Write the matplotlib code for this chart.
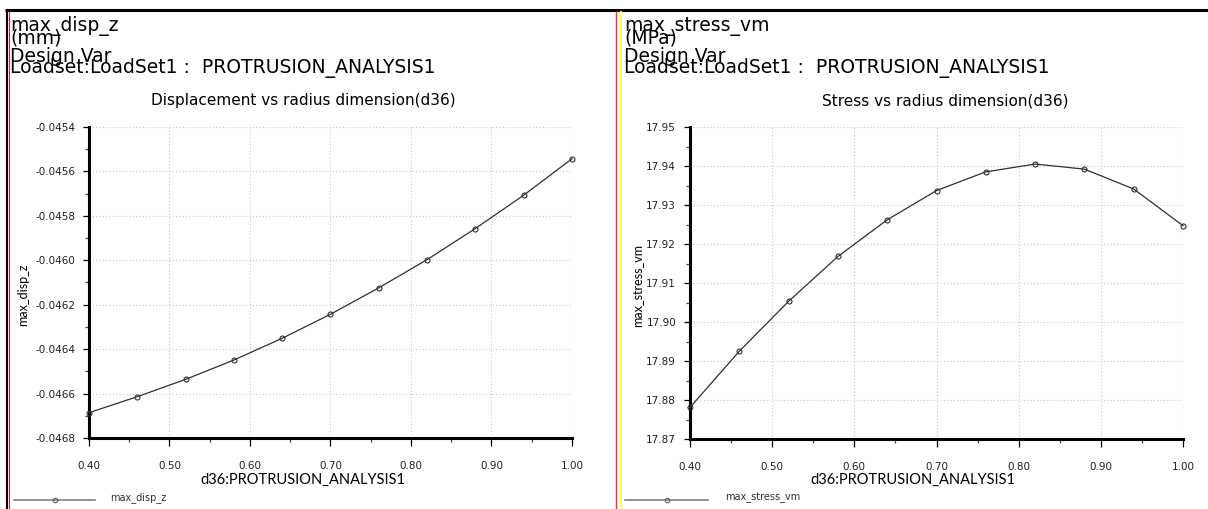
import matplotlib
matplotlib.use("Agg")
import matplotlib.pyplot as plt
from matplotlib.lines import Line2D
from matplotlib.ticker import MultipleLocator, FormatStrFormatter

plt.rcParams['font.family'] = ['DejaVu Sans']

# Design variable sweep (radius dimension d36)
d36 = [0.40, 0.46, 0.52, 0.58, 0.64, 0.70, 0.76, 0.82, 0.88, 0.94, 1.00]

# Measures at each design point
max_disp_z = [-0.046686, -0.046614, -0.046536, -0.046449, -0.046351, -0.046243,
              -0.046124, -0.045997, -0.045857, -0.045707, -0.045543]
max_stress_vm = [17.8781, 17.8925, 17.9053, 17.9168, 17.9262, 17.9337,
                 17.9385, 17.9405, 17.9392, 17.9341, 17.9247]

x_ticks = [0.40, 0.50, 0.60, 0.70, 0.80, 0.90, 1.00]
disp_ylim = (-0.0468, -0.0454)
stress_ylim = (17.87, 17.95)

W, H = 1208, 509
fig = plt.figure(figsize=(W / 100, H / 100), dpi=100)
fig.patch.set_facecolor('white')


def fx(px):
    return px / W


def fy(py):
    return 1 - py / H


def vline(x, y0, y1, color, lw):
    fig.add_artist(Line2D([fx(x), fx(x)], [fy(y0), fy(y1)], color=color, lw=lw,
                          transform=fig.transFigure, solid_capstyle='butt'))


def hline(x0, x1, y, color, lw):
    fig.add_artist(Line2D([fx(x0), fx(x1)], [fy(y), fy(y)], color=color, lw=lw,
                          transform=fig.transFigure, solid_capstyle='butt'))


# window frame
hline(5, W, 10, 'black', 2.2)
vline(6.5, 9, H, 'black', 1.5)
vline(8.5, 11, H, '#e02020', 0.8)
vline(616, 11, H, '#ff3030', 1.0)
vline(621, 11, H, '#ffff60', 1.5)

HEAD = dict(fontsize=13.5, va='baseline', ha='left', family='DejaVu Sans')
SMALL = ['Lato', 'DejaVu Sans']


def make_panel(left_px, right_px, top_px, bottom_px, y, ylim, major, minor,
               fmt, header, unit, title, title_cx, ylab, ylab_x, ylab_cy,
               text_x, leg_x0, leg_x1, leg_mx, leg_tx, xlab_cx):
    ax = fig.add_axes([fx(left_px), fy(bottom_px),
                       fx(right_px - left_px), (bottom_px - top_px) / H])
    ax.plot(d36, y, color='#303030', lw=0.9, marker='o', ms=3.6,
            mfc='none', mec='#303030', mew=0.8, clip_on=False, zorder=3)
    ax.set_xlim(0.40, 1.00)
    ax.set_ylim(*ylim)
    ax.set_xticks(x_ticks)
    ax.xaxis.set_minor_locator(MultipleLocator(0.05))
    ax.yaxis.set_major_locator(MultipleLocator(major))
    ax.yaxis.set_minor_locator(MultipleLocator(minor))
    ax.xaxis.set_major_formatter(FormatStrFormatter('%.2f'))
    ax.yaxis.set_major_formatter(FormatStrFormatter(fmt))
    for s in ('top', 'right'):
        ax.spines[s].set_visible(False)
    for s in ('left', 'bottom'):
        ax.spines[s].set_linewidth(2.2)
        ax.spines[s].set_color('black')
    ax.grid(True, which='major', color='#c8c8c8', ls=(0, (1, 2)), lw=0.8)
    ax.tick_params(axis='x', which='major', length=5.5, width=0.9,
                   labelsize=7.5, pad=11, color='black', labelcolor='#202020')
    ax.tick_params(axis='x', which='minor', length=3, width=0.9, color='#404040')
    ax.tick_params(axis='y', which='major', length=4, width=0.9,
                   labelsize=7.5, pad=6, color='black', labelcolor='#202020')
    ax.tick_params(axis='y', which='minor', length=3, width=0.9, color='#404040')

    # header lines
    fig.text(fx(text_x), fy(31), header, **HEAD)
    fig.text(fx(text_x), fy(43), unit, **HEAD)
    fig.text(fx(text_x), fy(62), 'Design Var', **HEAD)
    fig.text(fx(text_x), fy(73), 'Loadset:LoadSet1 :  PROTRUSION_ANALYSIS1', **HEAD)
    fig.text(fx(title_cx), fy(101), title, fontsize=11, ha='center', va='center')
    fig.text(fx(xlab_cx), fy(480), 'd36:PROTRUSION_ANALYSIS1',
             fontsize=10.5, ha='center', va='center', family=SMALL)
    fig.text(fx(ylab_x), fy(ylab_cy), ylab, fontsize=9, rotation=90,
             ha='center', va='center', family=SMALL)

    # legend entry
    fig.add_artist(Line2D([fx(leg_x0), fx(leg_x1)], [fy(500), fy(500)],
                          color='#808080', lw=1.2, transform=fig.transFigure))
    fig.add_artist(Line2D([fx(leg_mx)], [fy(500)], color='#606060', marker='o',
                          ms=3.2, mfc='none', mew=0.8, transform=fig.transFigure))
    fig.text(fx(leg_tx), fy(498), header, fontsize=7, ha='left', va='center',
             color='#303030')
    return ax


make_panel(89, 572, 127, 438, max_disp_z, disp_ylim, 0.0002, 0.0001, '%.4f',
           'max_disp_z', '(mm)', 'Displacement vs radius dimension(d36)', 303,
           'max_disp_z', 23, 295, 10, 14, 95, 55, 110, 303)
make_panel(690, 1183, 127, 439, max_stress_vm, stress_ylim, 0.01, 0.005, '%.2f',
           'max_stress_vm', '(MPa)', 'Stress vs radius dimension(d36)', 945,
           'max_stress_vm', 637, 285, 624, 625, 708, 667, 725, 913)

fig.savefig('out.png', dpi=100, facecolor='white')
